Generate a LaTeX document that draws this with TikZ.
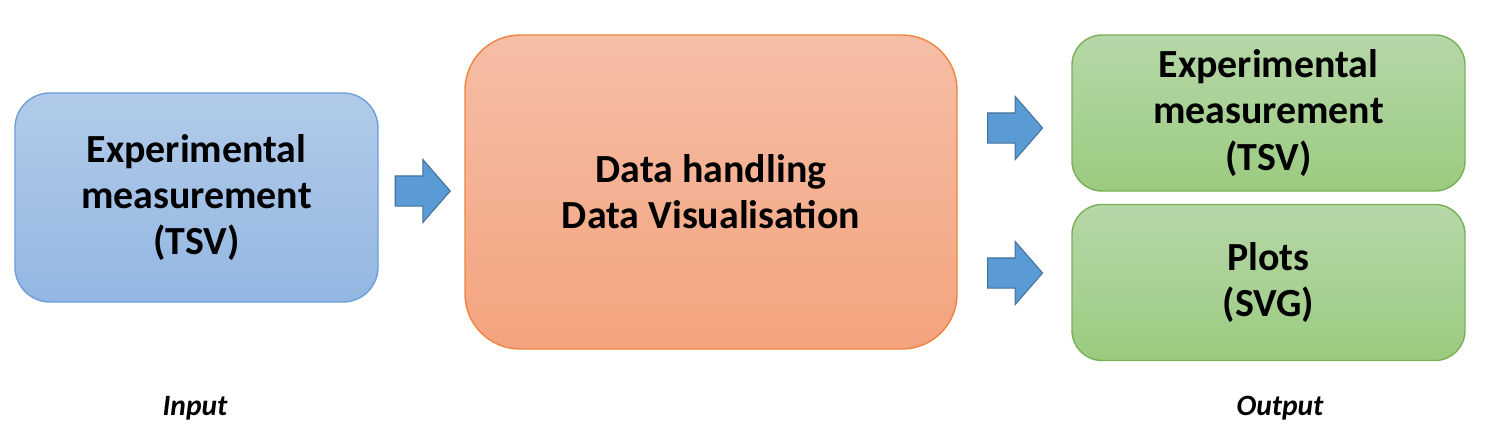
\documentclass[tikz,border=0pt]{standalone}
\usepackage{fontspec}
\setmainfont{Carlito}
\usetikzlibrary{positioning, shapes.arrows}

\definecolor{bluetop}{HTML}{B2CBEA}
\definecolor{bluebot}{HTML}{93B7E2}
\definecolor{blueline}{HTML}{6C9FD8}
\definecolor{orangetop}{HTML}{F5BEA6}
\definecolor{orangebot}{HTML}{F4A37E}
\definecolor{orangeline}{HTML}{EE8440}
\definecolor{greentop}{HTML}{B6D7A8}
\definecolor{greenbot}{HTML}{9BCB80}
\definecolor{greenline}{HTML}{79B057}
\definecolor{arrowfill}{HTML}{5B9BD5}
\definecolor{arrowline}{HTML}{41719C}

\begin{document}
\begin{tikzpicture}[
        box/.style = {draw, line width=0.8pt, align=center, font=\bfseries\fontsize{22.7}{26.2}\selectfont},
        inbox/.style = {box, draw=blueline, top color=bluetop, bottom color=bluebot, rounded corners=0.7cm},
        mainbox/.style = {box, draw=orangeline, top color=orangetop, bottom color=orangebot, rounded corners=1.1cm},
        outbox/.style = {box, draw=greenline, top color=greentop, bottom color=greenbot, rounded corners=0.6cm,
            minimum width=7.86cm, minimum height=3.12cm},
        flow/.style = {single arrow, draw=arrowline, fill=arrowfill, line width=0.6pt, inner xsep=0pt, inner ysep=0.29cm,
            minimum height=1.1cm, single arrow head extend=0.33cm, single arrow tip angle=98},
        tag/.style = {font=\bfseries\itshape\fontsize{16.8}{20}\selectfont}]
    \useasboundingbox (0,0) rectangle (29.7,-8.86);

    \node[inbox, minimum width=7.26cm, minimum height=4.18cm] (input) at (3.93,-3.95)
        {Experimental\\measurement\\(TSV)};
    \node[mainbox, minimum width=9.84cm, minimum height=6.28cm] (handling) at (14.22,-3.84)
        {Data handling\\Data Visualisation};
    \node[outbox] (table) at (25.37,-2.26) {Experimental\\measurement\\(TSV)};
    \node[outbox] (plots) at (25.37,-5.65) {Plots\\(SVG)};

    \node[flow, right=0.32cm of input.east, anchor=west, yshift=0.13cm] (in2main) {};
    \node[flow, left=0.56cm of table.west, anchor=east, yshift=-0.3cm] (main2table) {};
    \node[flow, left=0.56cm of plots.west, anchor=east, yshift=0.19cm] (main2plots) {};

    \node[tag] (inlabel) at (3.9,-8.16) {Input};
    \node[tag] (outlabel) at (25.6,-8.16) {Output};
\end{tikzpicture}
\end{document}
